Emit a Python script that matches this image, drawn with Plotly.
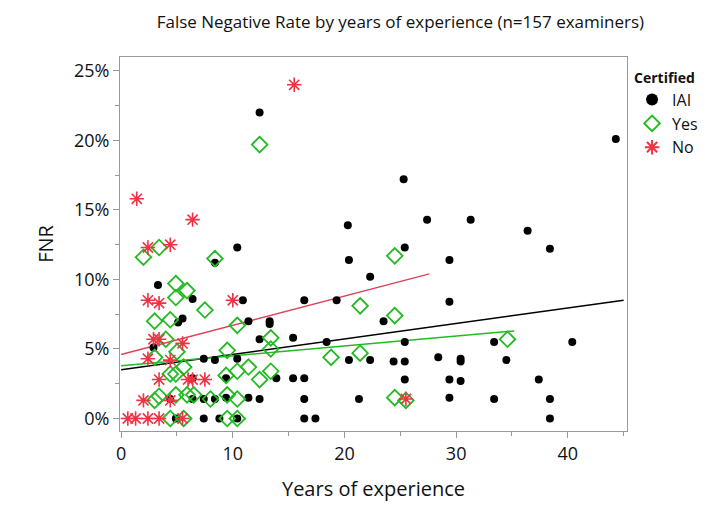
import plotly.graph_objects as go

iai_x = [12.4,44.3,25.3,20.3,27.4,31.3,36.4,38.4,25.4,20.4,29.4,22.3,19.3,29.4,23.5,25.4,33.4,40.4,20.4,22.3,24.4,25.4,28.4,30.4,30.4,34.5,25.4,29.4,30.4,37.4,21.3,29.4,33.4,38.4,38.4,
         10.4,8.4,3.3,6.4,10.9,16.4,5.5,5.1,11.4,13.3,13.3,12.4,15.4,18.4,2.9,7.4,8.4,10.4,9.4,13.9,15.4,16.4,6.4,4.4,6.4,7.4,8.4,9.4,11.4,12.4,16.4,4.9,7.4,8.8,10.4,16.4,17.4]
iai_y = [22.0,20.1,17.2,13.9,14.3,14.3,13.5,12.2,12.3,11.4,11.4,10.2,8.5,8.4,7.0,5.5,5.5,5.5,4.2,4.2,4.1,4.1,4.4,4.3,4.1,4.2,2.8,2.8,2.7,2.8,1.4,1.5,1.4,1.4,0.0,
         12.3,11.2,9.6,8.6,8.5,8.5,7.2,6.9,7.0,7.0,6.8,5.7,5.8,5.5,5.1,4.3,4.2,4.3,2.9,2.9,2.9,2.9,2.9,1.4,1.4,1.4,1.4,1.5,1.5,1.4,1.4,0.0,0.0,0.0,0.0,0.0,0.0]
yes_x = [12.4,2.0,3.4,8.4,4.9,5.9,4.9,7.5,3.0,4.4,10.4,4.0,13.4,5.0,9.5,13.4,3.0,5.6,4.4,4.9,10.4,11.4,13.4,9.4,12.4,3.0,3.4,4.9,5.9,6.5,8.0,9.5,10.4,4.4,5.6,9.5,10.4,
         24.5,21.4,24.5,34.6,21.4,18.8,24.5,25.5]
yes_y = [19.7,11.6,12.3,11.5,9.7,9.2,8.7,7.8,7.0,7.1,6.7,5.7,5.8,4.8,4.9,5.0,4.4,3.7,3.2,3.2,3.4,3.7,3.4,3.1,2.8,1.3,1.6,1.7,1.7,1.7,1.4,1.7,1.4,0.0,0.0,0.0,0.0,
         11.7,8.1,7.4,5.7,4.7,4.4,1.5,1.3]
no_x = [15.5,1.4,6.4,2.4,4.4,2.4,3.4,10.0,2.9,3.4,5.5,2.4,4.4,3.4,6.0,6.4,7.5,2.0,4.4,0.6,1.3,2.4,3.4,5.5,25.5]
no_y = [24.0,15.8,14.3,12.3,12.5,8.5,8.3,8.5,5.7,5.7,5.4,4.3,4.2,2.8,2.8,2.8,2.8,1.3,1.3,0.0,0.0,0.0,0.0,0.0,1.4]

# fit line endpoints
all_fit_x = [0, 45]; all_fit_y = [3.5, 8.5]
yes_fit_x = [0, 35.2]; yes_fit_y = [3.8, 6.3]
no_fit_x = [0, 27.6]; no_fit_y = [4.6, 10.4]

fig = go.Figure()
fig.add_trace(go.Scatter(x=all_fit_x, y=all_fit_y, mode='lines', line=dict(color='black', width=1.5), showlegend=False))
fig.add_trace(go.Scatter(x=yes_fit_x, y=yes_fit_y, mode='lines', line=dict(color='#22bb22', width=1.5), showlegend=False))
fig.add_trace(go.Scatter(x=no_fit_x, y=no_fit_y, mode='lines', line=dict(color='#dd4455', width=1.5), showlegend=False))
fig.add_trace(go.Scatter(x=iai_x, y=iai_y, mode='markers', name='IAI',
                         marker=dict(color='black', size=8)))
fig.add_trace(go.Scatter(x=yes_x, y=yes_y, mode='markers', name='Yes',
                         marker=dict(symbol='diamond-open', color='#22bb22', size=12, line=dict(width=1.8))))
fig.add_trace(go.Scatter(x=no_x, y=no_y, mode='markers', name='No',
                         marker=dict(symbol='asterisk-open', color='#ee3344', size=12, line=dict(width=1.6, color='#ee3344'))))

fig.update_layout(
    width=707, height=507, template='plotly_white',
    font=dict(family='Open Sans, Liberation Sans, sans-serif', size=18, color='#111'),
    title=dict(text='False Negative Rate by years of experience (n=157 examiners)', x=0.555, y=0.972, yref='container', xanchor='center', yanchor='middle', font=dict(size=17, color='#111'), pad=dict(t=0)),
    margin=dict(l=112, r=80, t=49, b=84),
    plot_bgcolor='white',
    legend=dict(title=dict(text='<b>Certified</b>', font=dict(size=14)), x=1.01, y=0.98, xanchor='left', yanchor='top',
                font=dict(size=16), itemsizing='constant', tracegroupgap=0),
    xaxis=dict(title=dict(text='Years of experience', font=dict(size=20), standoff=18), range=[-0.1, 45.3], tickvals=[0,10,20,30,40],
               showgrid=False, zeroline=False, showline=True, linecolor='#999', mirror=True, ticks='outside', ticklen=6,
               tickcolor='#999', minor=dict(tickvals=[5,15,25,35,45], ticks='outside', ticklen=4, tickcolor='#999')),
    yaxis=dict(title=dict(text='FNR', font=dict(size=20), standoff=14), range=[-0.9, 26], tickvals=[0,5,10,15,20,25],
               ticktext=['0%','5%','10%','15%','20%','25%'],
               showgrid=False, zeroline=False, showline=True, linecolor='#999', mirror=True, ticks='outside', ticklen=6,
               tickcolor='#999', minor=dict(tickvals=[2.5,7.5,12.5,17.5,22.5], ticks='outside', ticklen=4, tickcolor='#999')),
)
fig.write_html('out.html')
